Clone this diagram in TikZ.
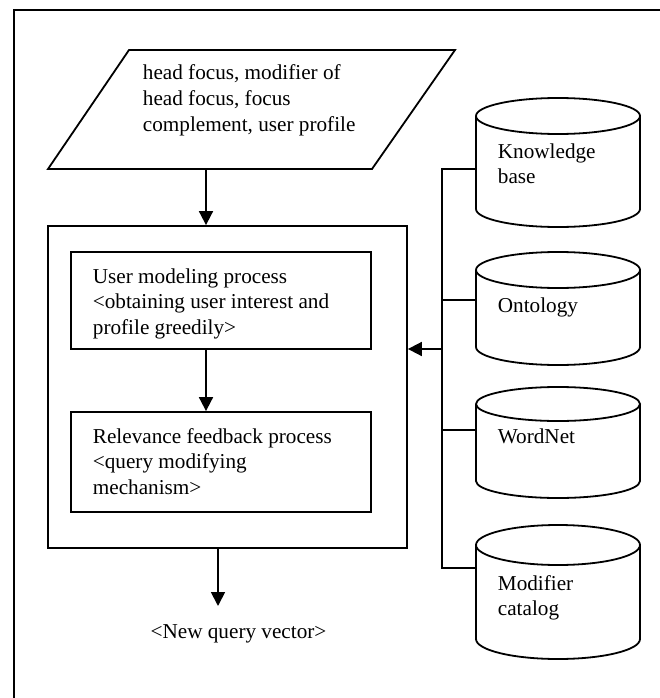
\documentclass[tikz,border=0pt]{standalone}
\usepackage{fontspec}
\setmainfont{Liberation Serif}
\usetikzlibrary{arrows.meta}
\begin{document}
\begin{tikzpicture}[x=1bp,y=-1bp,
  line width=1.8bp,
  txt/.style={inner sep=0pt, align=left, font=\fontsize{21.2bp}{25.6bp}\selectfont},
  lbl/.style={txt, anchor=base west},
  box/.style={draw, rectangle, inner sep=0pt},
  hold/.style={rectangle, inner sep=0pt, minimum width=164bp},
  arr/.style={-{Triangle[length=14bp,width=14bp]}}
]
\useasboundingbox (0,0) rectangle (660,698);
% outer frame (clipped at right and bottom)
\draw (14,710) -- (14,10) -- (670,10);

% input parallelogram
\draw (48,169) -- (129,50) -- (455,50) -- (372,169) -- cycle;
\node[lbl] (intext) at (142,131.2) {head focus, modifier of\\head focus, focus\\complement, user profile};
\coordinate (a1) at (206,169);

% process boxes
\node[box, minimum width=359bp, minimum height=322bp] (outer) at (227.5,387) {};
\node[box, minimum width=300bp, minimum height=97bp] (um) at (221,300.5) {};
\node[box, minimum width=300bp, minimum height=100bp] (rf) at (221,462) {};
\node[lbl] (umtext) at (92,334.2) {User modeling process\\<obtaining user interest and\\profile greedily>};
\node[lbl] (rftext) at (92,494.2) {Relevance feedback process\\<query modifying\\mechanism>};

\draw[arr] (a1) -- (a1 |- outer.north);
\draw[arr] ([xshift=-15bp]um.south) -- ([xshift=-15bp]rf.north);
\coordinate (nq) at (218,606);
\draw[arr] (outer.south -| nq) -- (nq);
\node[txt, anchor=base] (nqtext) at (238.5,638) {<New query vector>};

% databases
\newcommand\dbcyl[3]{%
  \draw (476,#1+#3) -- (476,#2-#3) arc[start angle=180,end angle=360,x radius=82bp,y radius=#3bp] -- (640,#1+#3);
  \draw (558,#1+#3) ellipse[x radius=82bp,y radius=#3bp];
}
\dbcyl{98}{227}{18}
\dbcyl{252}{365}{18}
\dbcyl{387}{498}{17}
\dbcyl{525}{659}{20}
\node[hold, minimum height=129bp] (kb) at (558,162.5) {};
\node[hold, minimum height=113bp] (on) at (558,308.5) {};
\node[hold, minimum height=111bp] (wn) at (558,442.5) {};
\node[hold, minimum height=134bp] (mc) at (558,592) {};
\node[lbl] (kbtext) at (497,183.6) {Knowledge\\base};
\node[lbl] (ontext) at (497,312) {Ontology};
\node[lbl] (wntext) at (497,443) {WordNet};
\node[lbl] (mctext) at (497,615.6) {Modifier\\catalog};

% connectors
\coordinate (t1) at (442,169);
\coordinate (t2) at (442,300);
\coordinate (t3) at (442,430);
\coordinate (t4) at (442,568);
\coordinate (t0) at (442,349);
\draw (kb.west |- t1) -- (t1) -- (t4) -- (mc.west |- t4);
\draw (t2) -- (on.west |- t2);
\draw (t3) -- (wn.west |- t3);
\draw[arr] (t0) -- (t0 -| outer.east);
\end{tikzpicture}
\end{document}
